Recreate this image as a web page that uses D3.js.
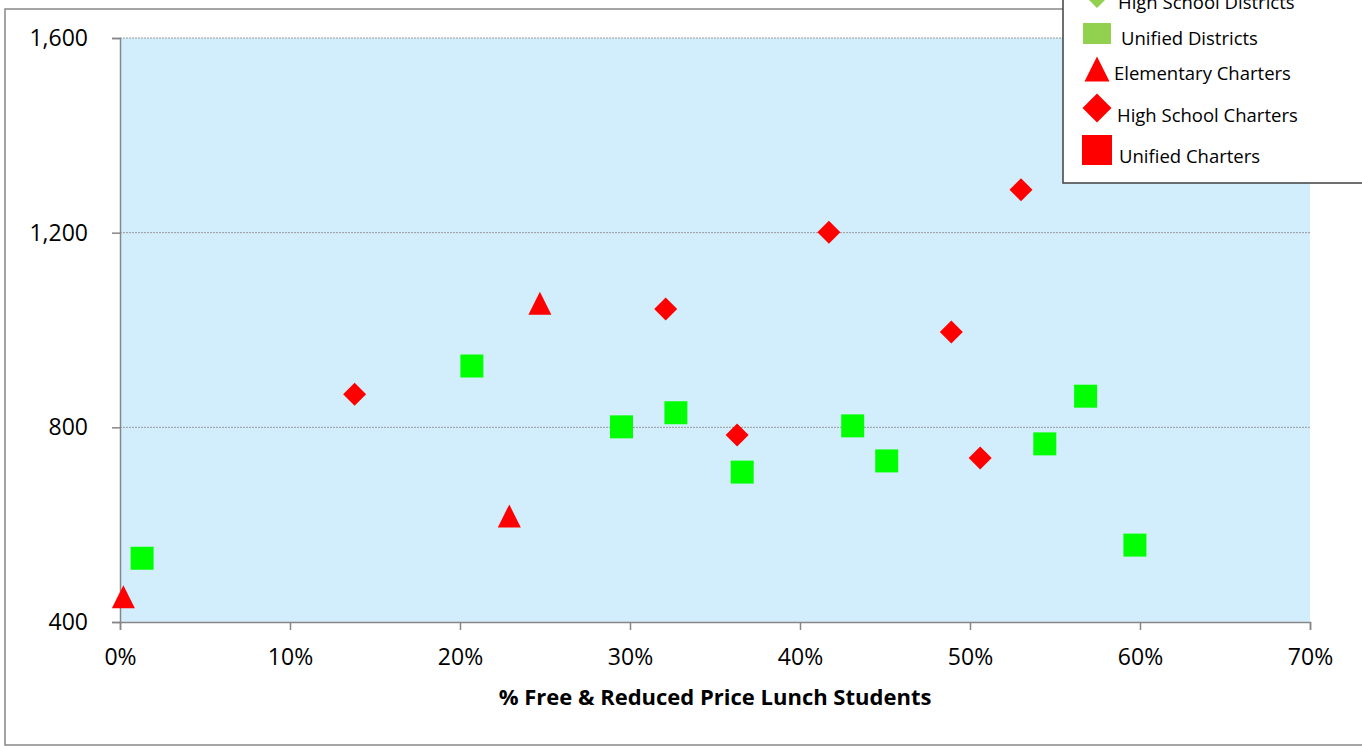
<!DOCTYPE html>
<html lang="en">
<head>
<meta charset="UTF-8">
<title>Free & Reduced Price Lunch scatter</title>
<style>
  html, body { margin: 0; padding: 0; background: #fff; }
  svg { display: block; font-family: "Open Sans", sans-serif; }
</style>
</head>
<body>
<div id="chart-container"></div>
<script src="https://d3js.org/d3.v7.min.js"></script>
<script>
// ---- data ----
const xTicks = [0, 0.1, 0.2, 0.3, 0.4, 0.5, 0.6, 0.7];
const yTicks = [400, 800, 1200, 1600];

const unifiedDistX = [0.013, 0.207, 0.295, 0.327, 0.366, 0.431, 0.451, 0.544, 0.568, 0.597];
const unifiedDistY = [531, 926, 801, 830, 708, 803, 731, 766, 864, 558];

const elemCharterX = [0.002, 0.229, 0.247];
const elemCharterY = [452, 618, 1055];

const highCharterX = [0.138, 0.321, 0.363, 0.417, 0.489, 0.506, 0.530];
const highCharterY = [868, 1043, 784, 1201, 996, 737, 1288];

const legendLabels = ["High School Districts", "Unified Districts", "Elementary Charters",
                      "High School Charters", "Unified Charters"];

const W = 1362, H = 746;
const margin = { top: 38, right: 52, bottom: 124, left: 120 };

const svg = d3.select("#chart-container")
  .append("svg")
  .attr("width", W)
  .attr("height", H);

// outer chart border
svg.append("rect")
  .attr("x", 5).attr("y", 9)
  .attr("width", W + 20).attr("height", 736)
  .attr("fill", "#fff")
  .attr("stroke", "#888")
  .attr("stroke-width", 1.5);

const x = d3.scaleLinear().domain([0, 0.7]).range([margin.left, W - margin.right]);
const y = d3.scaleLinear().domain([400, 1600]).range([H - margin.bottom, margin.top]);

// plot background
svg.append("rect")
  .attr("x", x(0)).attr("y", y(1600))
  .attr("width", x(0.7) - x(0)).attr("height", y(400) - y(1600))
  .attr("fill", "#D2EEFC");

// gridlines
svg.append("g")
  .selectAll("line")
  .data(yTicks.filter(d => d > 400))
  .join("line")
  .attr("x1", x(0)).attr("x2", x(0.7))
  .attr("y1", d => y(d)).attr("y2", d => y(d))
  .attr("stroke", "#9a9a9a")
  .attr("stroke-width", 1)
  .attr("stroke-dasharray", "2,1");

// y axis
const yAxis = svg.append("g")
  .attr("transform", "translate(" + x(0) + ",0)")
  .call(d3.axisLeft(y).tickValues(yTicks).tickSize(8).tickPadding(24).tickFormat(d3.format(",")));

// x axis
const xAxis = svg.append("g")
  .attr("transform", "translate(0," + y(400) + ")")
  .call(d3.axisBottom(x).tickValues(xTicks).tickSize(8).tickPadding(19).tickFormat(d3.format(".0%")));

[yAxis, xAxis].forEach(g => {
  g.select(".domain").attr("stroke", "#868686").attr("stroke-width", 1.5);
  g.selectAll(".tick line").attr("stroke", "#868686").attr("stroke-width", 1.5);
  g.selectAll(".tick text")
    .attr("fill", "#000")
    .style("font-size", "23px")
    .style("font-family", "'Open Sans', sans-serif");
});

// x axis title
svg.append("text")
  .attr("x", 715)
  .attr("y", 705)
  .attr("text-anchor", "middle")
  .style("font-size", "22px")
  .style("font-weight", "bold")
  .text("% Free & Reduced Price Lunch Students");

// marker shapes
function square(s) { return "M" + (-s/2) + "," + (-s/2) + "h" + s + "v" + s + "h" + (-s) + "Z"; }
function diamond(s) { return "M0," + (-s/2) + "L" + (s/2) + ",0L0," + (s/2) + "L" + (-s/2) + ",0Z"; }
function triangle(s) { return "M0," + (-s/2) + "L" + (s/2) + "," + (s/2) + "L" + (-s/2) + "," + (s/2) + "Z"; }

function plotSeries(xs, ys, shape, size, color) {
  svg.append("g")
    .selectAll("path")
    .data(xs.map((v, i) => [v, ys[i]]))
    .join("path")
    .attr("transform", d => "translate(" + x(d[0]) + "," + y(d[1]) + ")")
    .attr("d", shape(size))
    .attr("fill", color);
}

plotSeries(unifiedDistX, unifiedDistY, square, 23, "#00FF00");
plotSeries(elemCharterX, elemCharterY, triangle, 23, "#FF0000");
plotSeries(highCharterX, highCharterY, diamond, 23, "#FF0000");

// legend box (top is cut off in the original)
const legend = svg.append("g");
legend.append("rect")
  .attr("x", 1063).attr("y", -20)
  .attr("width", 320).attr("height", 203)
  .attr("fill", "#fff")
  .attr("stroke", "#404040")
  .attr("stroke-width", 1.5);

const legendItems = [
  { shape: diamond, size: 28, color: "#92D050", cy: -6, tx: 1118, ty: 9 },
  { shape: null, color: "#92D050", cy: 33, tx: 1121, ty: 45 },
  { shape: triangle, size: 25, color: "#FF0000", cy: 69, tx: 1114, ty: 80 },
  { shape: diamond, size: 29, color: "#FF0000", cy: 108, tx: 1117, ty: 122 },
  { shape: square, size: 30, color: "#FF0000", cy: 150, tx: 1119, ty: 163 }
];

legendItems.forEach((d, i) => {
  if (d.shape) {
    legend.append("path")
      .attr("transform", "translate(1097," + d.cy + ")")
      .attr("d", d.shape(d.size))
      .attr("fill", d.color);
  } else {
    legend.append("rect")
      .attr("x", 1083).attr("y", 23)
      .attr("width", 28).attr("height", 21)
      .attr("fill", d.color);
  }
  legend.append("text")
    .attr("x", d.tx)
    .attr("y", d.ty)
    .style("font-size", "18.5px")
    .attr("fill", "#000")
    .text(legendLabels[i]);
});
</script>
</body>
</html>
